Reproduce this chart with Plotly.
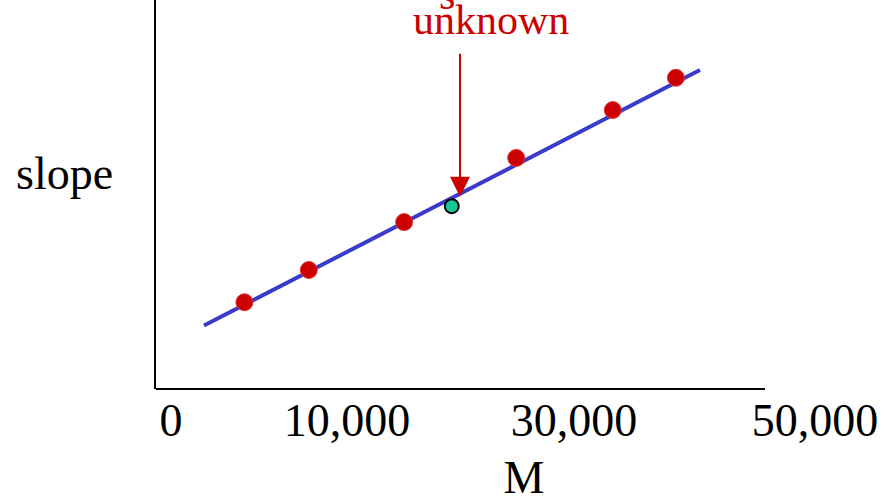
import plotly.graph_objects as go

# Standards: molar mass M and the measured slope (arbitrary units)
std_mass = [5700, 10700, 18100, 26800, 34300, 39200]
std_slope = [2.23, 3.06, 4.29, 5.94, 7.17, 8.00]

# Unknown sample
unk_mass = [21800]
unk_slope = [4.70]

# Calibration line end points
fit_mass = [2560, 41070]
fit_slope = [1.63, 8.20]

# Where the arrow to the unknown starts and ends
arrow_mass = 22440
arrow_top, arrow_tip = 8.66, 4.94

# x tick labels and where they sit on the M axis
tick_labels = ["0", "10,000", "30,000", "50,000"]
tick_positions = [0, 13660, 31280, 50000]

x_range = [-1165, 55980]
y_range = [0, 10]
x_axis_end = 46120

SERIF = "Liberation Serif, Times New Roman, serif"
RED = "#cc0000"

fig = go.Figure()

fig.add_trace(go.Scatter(
    x=fit_mass, y=fit_slope, mode="lines",
    line=dict(color="#3a3acc", width=4), hoverinfo="skip",
))
fig.add_trace(go.Scatter(
    x=std_mass, y=std_slope, mode="markers",
    marker=dict(size=17, color=RED, line=dict(color="#e23a3a", width=1)),
))
fig.add_trace(go.Scatter(
    x=unk_mass, y=unk_slope, mode="markers",
    marker=dict(size=14, color="#14c896", line=dict(color="#000000", width=2)),
))

# Arrow pointing at the unknown
fig.add_annotation(
    x=arrow_mass, y=arrow_tip, ax=arrow_mass, ay=arrow_top,
    xref="x", yref="y", axref="x", ayref="y",
    text="", showarrow=True, arrowhead=2, arrowsize=2, arrowwidth=2,
    arrowcolor=RED,
)
fig.add_annotation(
    x=0.455, y=1.0, xref="paper", yref="paper", yanchor="top", yshift=5,
    text="unknown", showarrow=False,
    font=dict(family=SERIF, size=42, color=RED),
)
# First line of the label, running off the top edge
fig.add_annotation(
    x=0.395, y=1.0, xref="paper", yref="paper", text="s",
    showarrow=False, yanchor="bottom", yshift=-20,
    font=dict(family=SERIF, size=42, color=RED),
)

# y-axis label
fig.add_annotation(
    x=-0.193, y=0.555, xref="paper", yref="paper", text="slope",
    showarrow=False, xanchor="left",
    font=dict(family=SERIF, size=46, color="#000000"),
)

# x-axis line stops short of the last label
fig.add_shape(
    type="line", x0=x_range[0], x1=x_axis_end, y0=0, y1=0,
    xref="x", yref="paper", line=dict(color="#000000", width=2),
)

fig.update_layout(
    width=892, height=503,
    margin=dict(l=156, r=0, t=0, b=114),
    paper_bgcolor="white", plot_bgcolor="white",
    showlegend=False,
    font=dict(family=SERIF, color="#000000"),
    xaxis=dict(
        range=x_range, showgrid=False, zeroline=False, showline=False,
        tickmode="array", tickvals=tick_positions, ticktext=tick_labels,
        tickfont=dict(family=SERIF, size=46), ticks="",
        title=dict(text="M", font=dict(family=SERIF, size=46), standoff=17),
    ),
    yaxis=dict(
        range=y_range, showgrid=False, zeroline=False,
        showline=True, linecolor="#000000", linewidth=2,
        showticklabels=False, ticks="",
    ),
)

fig.write_html("out.html")
